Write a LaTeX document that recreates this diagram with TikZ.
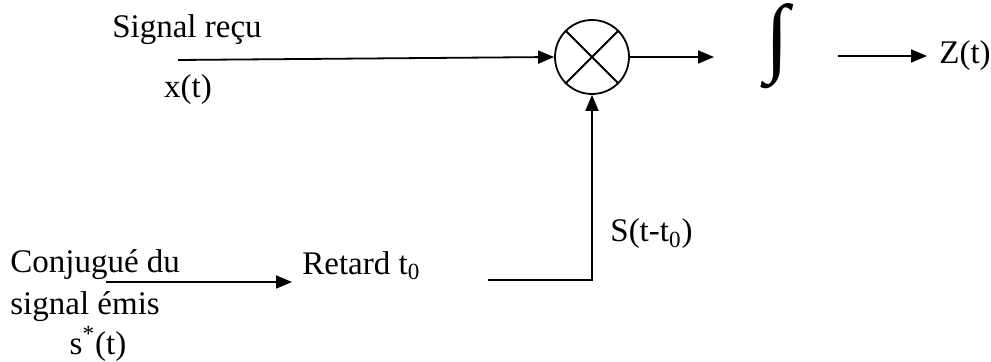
\documentclass[tikz,border=0pt]{standalone}
\usepackage{fontspec}
\setmainfont{Liberation Serif}
\usetikzlibrary{arrows.meta}
\begin{document}
\begin{tikzpicture}[x=0.5pt,y=-0.5pt,
  every node/.style={font=\fontsize{16.5}{20}\selectfont, inner sep=0pt},
  wire/.style={line width=0.9pt},
  arr/.style={wire,-{Triangle[length=8pt,width=6.5pt]}},
  mixer/.style={circle,draw,line width=0.9pt,minimum size=37pt}]
\useasboundingbox (0,0) rectangle (991,362);
% nodes
\node (sig) at (187,30) {Signal reçu};
\node (xt) at (188,90) {x(t)};
\coordinate (xin) at (178,60);
\node[mixer] (mult) at (592,57) {};
\draw[wire] (mult.north west) -- (mult.south east);
\draw[wire] (mult.north east) -- (mult.south west);
\coordinate (toint) at (714,57);
\node[inner sep=2pt] (int) at (777,46) {\resizebox{!}{31pt}{∫}};
\coordinate (fromint) at (838,56);
\node[anchor=west] (Z) at (939,56) {Z(t)};
\node[anchor=west, align=left, font=\fontsize{16.5}{21}\selectfont] (conj) at (10,286) {Conjugué du\\signal émis};
\node (sst) at (98,344) {s\textsuperscript{*}(t)};
\coordinate (cin) at (106,282);
\node[anchor=west] (ret) at (302,266) {Retard t\textsubscript{0}};
\coordinate (rout) at (488,280);
\node[anchor=west] (stt) at (610,234) {S(t-t\textsubscript{0})};
% connectors
\draw[arr] (xin) -- (mult.west);
\draw[arr] (mult.east) -- (toint);
\draw[arr,shorten >=6pt] (fromint) -- (Z.west);
\draw[arr,shorten >=5pt] (cin) -- (ret.west |- cin);
\draw[arr] (rout) -| (mult.south);
\end{tikzpicture}
\end{document}
